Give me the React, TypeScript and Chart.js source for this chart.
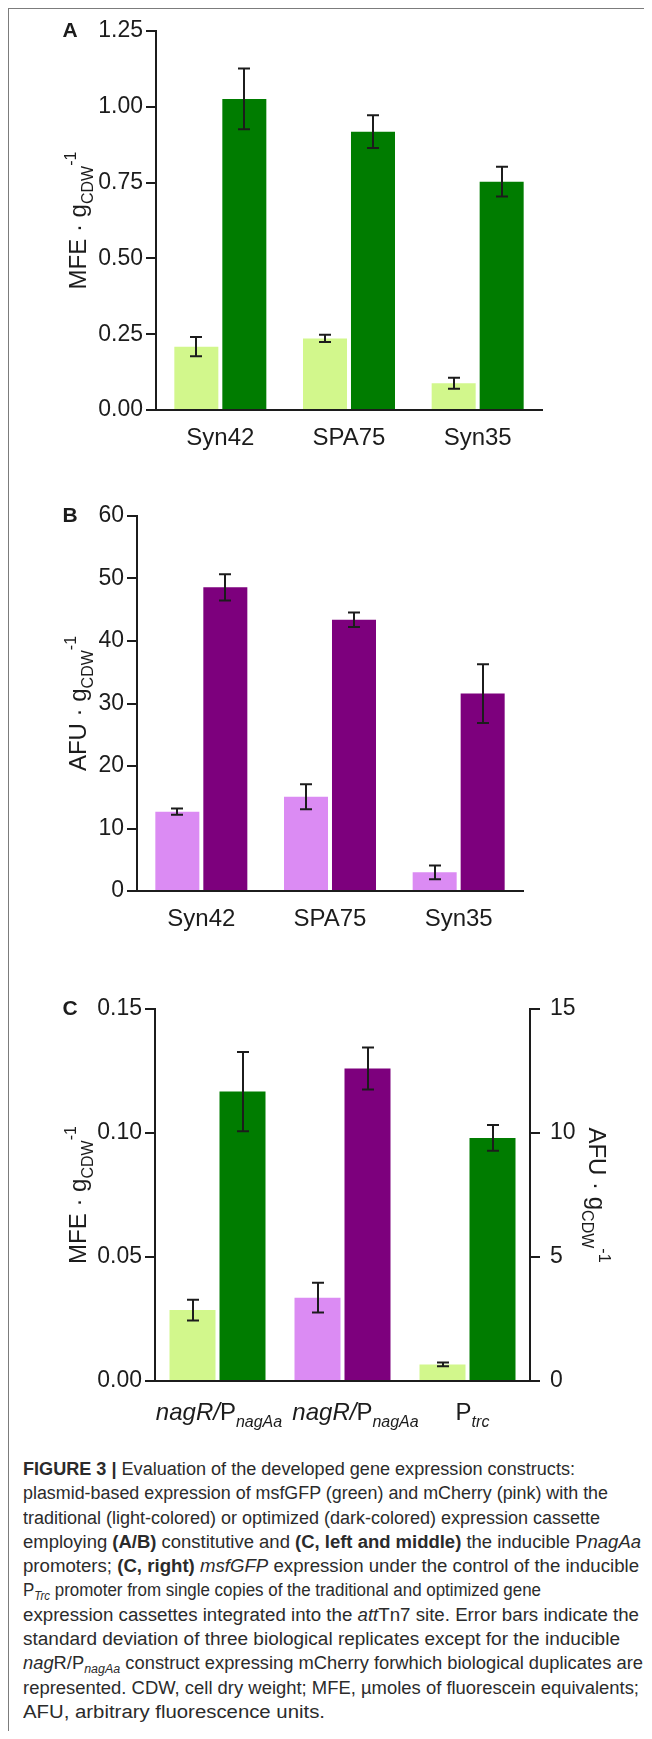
import React, { useEffect, useLayoutEffect, useRef, useState } from 'react';
import { Chart, registerables } from 'chart.js';

Chart.register(...registerables);

// ---------------- data ----------------
const abCategories = ['Syn42', 'SPA75', 'Syn35'];

const aTraditional = [0.209, 0.236, 0.088];
const aTraditionalSd = [0.032, 0.012, 0.018];
const aOptimized = [1.026, 0.918, 0.753];
const aOptimizedSd = [0.1, 0.054, 0.049];
const aTicks = [0, 0.25, 0.5, 0.75, 1.0, 1.25];

const bTraditional = [12.7, 15.1, 3.0];
const bTraditionalSd = [0.5, 2.0, 1.1];
const bOptimized = [48.6, 43.4, 31.6];
const bOptimizedSd = [2.1, 1.15, 4.7];
const bTicks = [0, 10, 20, 30, 40, 50, 60];

type Seg = { text: string; italic?: boolean; bold?: boolean; sub?: boolean; sup?: boolean };

const cCategories: Seg[][] = [
  [{ text: 'nagR/', italic: true }, { text: 'P' }, { text: 'nagAa', italic: true, sub: true }],
  [{ text: 'nagR/', italic: true }, { text: 'P' }, { text: 'nagAa', italic: true, sub: true }],
  [{ text: 'P' }, { text: 'trc', italic: true, sub: true }],
];
// msfGFP (MFE, left axis)
const cGfpTraditional = [0.0286, null, 0.0067];
const cGfpTraditionalSd = [0.0042, null, 0.0008];
const cGfpOptimized = [0.1167, null, 0.098];
const cGfpOptimizedSd = [0.016, null, 0.0052];
// mCherry (AFU, right axis)
const cCherryTraditional = [null, 3.36, null];
const cCherryTraditionalSd = [null, 0.6, null];
const cCherryOptimized = [null, 12.6, null];
const cCherryOptimizedSd = [null, 0.85, null];
const cLeftTicks = [0, 0.05, 0.1, 0.15];
const cRightTicks = [0, 5, 10, 15];

const mfeTitle: Seg[] = [{ text: 'MFE · g' }, { text: 'CDW', sub: true }, { text: '-1', sup: true }];
const afuTitle: Seg[] = [{ text: 'AFU · g' }, { text: 'CDW', sub: true }, { text: '-1', sup: true }];

// ---------------- style ----------------
const FONT = "'Liberation Sans', Arial, Helvetica, sans-serif";
const AXIS = '#1c1c1c';
const LIGHT_GREEN = '#d2f78c';
const DARK_GREEN = '#007c00';
const LIGHT_PINK = '#db8bf3';
const PURPLE = '#7d007d';
const TICK_FONT = 23;
const TITLE_FONT = 24;
// horizontal nudge of the panel C category labels (px)
const cLabelNudge = [1.5, 13, 5];

function segFont(s: Seg, size: number) {
  const sz = s.sub || s.sup ? Math.round(size * 0.68) : size;
  return `${s.italic ? 'italic ' : ''}${s.bold ? 'bold ' : ''}${sz}px ${FONT}`;
}

function drawRich(ctx: CanvasRenderingContext2D, segs: Seg[], x: number, y: number, size: number) {
  ctx.textBaseline = 'alphabetic';
  ctx.textAlign = 'left';
  const ws = segs.map((s) => {
    ctx.font = segFont(s, size);
    return ctx.measureText(s.text).width;
  });
  const total = ws.reduce((a, b) => a + b, 0);
  let cx = x - total / 2;
  segs.forEach((s, i) => {
    ctx.font = segFont(s, size);
    const dy = s.sub ? size * 0.3 : s.sup ? -size * 0.42 : 0;
    ctx.fillText(s.text, cx, y + dy);
    cx += ws[i];
  });
}

type Deco = {
  letter: string;
  letterX: number;
  leftTitle: Seg[];
  leftTitleX: number;
  rightTitle?: Seg[];
  rightTitleX?: number;
  categories: Seg[][];
  labelGap: number;
  labelSize: number;
  labelNudge?: number[];
};

function makeDeco(d: Deco) {
  return {
    id: 'deco',
    afterDatasetsDraw(chart: any) {
      const ctx: CanvasRenderingContext2D = chart.ctx;
      ctx.save();
      ctx.strokeStyle = AXIS;
      ctx.lineWidth = 2;
      chart.data.datasets.forEach((ds: any, di: number) => {
        const meta = chart.getDatasetMeta(di);
        const yScale = meta.vScale;
        meta.data.forEach((bar: any, i: number) => {
          const v = ds.data[i];
          const e = ds.errors ? ds.errors[i] : null;
          if (v == null || e == null) return;
          const x = Math.round(bar.x);
          const y1 = yScale.getPixelForValue(v + e);
          const y2 = yScale.getPixelForValue(v - e);
          ctx.beginPath();
          ctx.moveTo(x, y1);
          ctx.lineTo(x, y2);
          ctx.moveTo(x - 6, y1);
          ctx.lineTo(x + 6, y1);
          ctx.moveTo(x - 6, y2);
          ctx.lineTo(x + 6, y2);
          ctx.stroke();
        });
      });
      ctx.restore();
    },
    afterDraw(chart: any) {
      const ctx: CanvasRenderingContext2D = chart.ctx;
      const area = chart.chartArea;
      const xScale = chart.scales.x;
      ctx.save();
      ctx.fillStyle = AXIS;
      ctx.font = `bold 21px ${FONT}`;
      ctx.textAlign = 'center';
      ctx.textBaseline = 'middle';
      ctx.fillText(d.letter, d.letterX, area.top);
      const midY = (area.top + area.bottom) / 2;
      ctx.save();
      ctx.translate(d.leftTitleX, midY);
      ctx.rotate(-Math.PI / 2);
      drawRich(ctx, d.leftTitle, 0, TITLE_FONT * 0.36, TITLE_FONT);
      ctx.restore();
      if (d.rightTitle && d.rightTitleX != null) {
        ctx.save();
        ctx.translate(d.rightTitleX, midY);
        ctx.rotate(Math.PI / 2);
        drawRich(ctx, d.rightTitle, 0, TITLE_FONT * 0.36, TITLE_FONT);
        ctx.restore();
      }
      d.categories.forEach((segs, i) => {
        const nudge = d.labelNudge ? d.labelNudge[i] : 0;
        drawRich(ctx, segs, xScale.getPixelForValue(i) + nudge, area.bottom + d.labelGap, d.labelSize);
      });
      ctx.restore();
    },
  };
}

function yAxis(min: number, max: number, ticks: number[], width: number, digits: number, position = 'left', pad = 3) {
  return {
    type: 'linear',
    position,
    min,
    max,
    afterBuildTicks: (s: any) => {
      s.ticks = ticks.map((value) => ({ value }));
    },
    afterFit: (s: any) => {
      s.width = width;
    },
    ticks: {
      color: AXIS,
      font: { family: FONT, size: TICK_FONT },
      padding: pad,
      callback: (v: any) => Number(v).toFixed(digits),
    },
    grid: { display: true, drawOnChartArea: false, drawTicks: true, tickLength: 10, lineWidth: 2, color: AXIS },
    border: { display: true, color: AXIS, width: 2 },
  };
}

function xAxis(height: number) {
  return {
    type: 'category',
    offset: true,
    afterFit: (s: any) => {
      s.height = height;
    },
    ticks: { display: false },
    grid: { display: false, offset: true },
    border: { display: true, color: AXIS, width: 2 },
  };
}

const baseOptions = {
  animation: false,
  responsive: false,
  maintainAspectRatio: false,
  devicePixelRatio: 1,
  events: [],
};

function configA() {
  return {
    type: 'bar',
    data: {
      labels: abCategories,
      datasets: [
        { data: aTraditional, errors: aTraditionalSd, backgroundColor: LIGHT_GREEN, borderWidth: 0 },
        { data: aOptimized, errors: aOptimizedSd, backgroundColor: DARK_GREEN, borderWidth: 0 },
      ],
    },
    options: {
      ...baseOptions,
      categoryPercentage: 0.746,
      barPercentage: 0.917,
      layout: { padding: { top: 23, right: 102, bottom: 0, left: 0 } },
      plugins: { legend: { display: false }, tooltip: { enabled: false } },
      scales: {
        x: xAxis(60),
        y: yAxis(0, 1.25, aTicks, 148, 2),
      },
    },
    plugins: [
      makeDeco({
        letter: 'A',
        letterX: 62,
        leftTitle: mfeTitle,
        leftTitleX: 69,
        categories: abCategories.map((t) => [{ text: t }]),
        labelGap: 35,
        labelSize: 24,
      }),
    ],
  };
}

function configB() {
  return {
    type: 'bar',
    data: {
      labels: abCategories,
      datasets: [
        { data: bTraditional, errors: bTraditionalSd, backgroundColor: LIGHT_PINK, borderWidth: 0 },
        { data: bOptimized, errors: bOptimizedSd, backgroundColor: PURPLE, borderWidth: 0 },
      ],
    },
    options: {
      ...baseOptions,
      categoryPercentage: 0.746,
      barPercentage: 0.917,
      layout: { padding: { top: 46, right: 121, bottom: 0, left: 0 } },
      plugins: { legend: { display: false }, tooltip: { enabled: false } },
      scales: {
        x: xAxis(69),
        y: yAxis(0, 60, bTicks, 129, 0),
      },
    },
    plugins: [
      makeDeco({
        letter: 'B',
        letterX: 62,
        leftTitle: afuTitle,
        leftTitleX: 69,
        categories: abCategories.map((t) => [{ text: t }]),
        labelGap: 35,
        labelSize: 24,
      }),
    ],
  };
}

function configC() {
  return {
    type: 'bar',
    data: {
      labels: cCategories.map((segs) => segs.map((s) => s.text).join('')),
      datasets: [
        { data: cGfpTraditional, errors: cGfpTraditionalSd, backgroundColor: LIGHT_GREEN, borderWidth: 0, yAxisID: 'y' },
        { data: cGfpOptimized, errors: cGfpOptimizedSd, backgroundColor: DARK_GREEN, borderWidth: 0, yAxisID: 'y' },
        { data: cCherryTraditional, errors: cCherryTraditionalSd, backgroundColor: LIGHT_PINK, borderWidth: 0, yAxisID: 'y2' },
        { data: cCherryOptimized, errors: cCherryOptimizedSd, backgroundColor: PURPLE, borderWidth: 0, yAxisID: 'y2' },
      ],
    },
    options: {
      ...baseOptions,
      skipNull: true,
      categoryPercentage: 0.8,
      barPercentage: 0.92,
      layout: { padding: { top: 49, right: 0, bottom: 0, left: 0 } },
      plugins: { legend: { display: false }, tooltip: { enabled: false } },
      scales: {
        x: xAxis(69),
        y: yAxis(0, 0.15, cLeftTicks, 147, 2),
        y2: yAxis(0, 15, cRightTicks, 114, 0, 'right', 10),
      },
    },
    plugins: [
      makeDeco({
        letter: 'C',
        letterX: 62,
        leftTitle: mfeTitle,
        leftTitleX: 69,
        rightTitle: afuTitle,
        rightTitleX: 590,
        categories: cCategories,
        labelGap: 39,
        labelSize: 24,
        labelNudge: cLabelNudge,
      }),
    ],
  };
}

function ChartPanel({ top, height, make }: { top: number; height: number; make: () => any }) {
  const ref = useRef<HTMLCanvasElement>(null);
  useEffect(() => {
    const chart = new Chart(ref.current as HTMLCanvasElement, make());
    return () => chart.destroy();
  }, []);
  return (
    <canvas
      ref={ref}
      width={636}
      height={height}
      style={{ position: 'absolute', left: 0, top, width: 636, height }}
    />
  );
}

const subStyle: React.CSSProperties = { fontSize: '0.68em', verticalAlign: '-0.3em', lineHeight: 0 };
// rendered width (px) of each caption line
const captionLineWidths = [552, 585, 577, 618, 616, 518, 616, 597, 620, 616, 302];

export default function App() {
  const lineRefs = useRef<(HTMLSpanElement | null)[]>([]);
  const [scales, setScales] = useState<number[]>(captionLineWidths.map(() => 1));
  useLayoutEffect(() => {
    setScales(
      lineRefs.current.map((el, i) => {
        if (!el) return 1;
        const w = el.getBoundingClientRect().width;
        return w > 0 ? captionLineWidths[i] / w : 1;
      })
    );
  }, []);

  const lines: React.ReactNode[] = [
    <>
      <b>FIGURE 3 |</b> Evaluation of the developed gene expression constructs:
    </>,
    <>plasmid-based expression of msfGFP (green) and mCherry (pink) with the</>,
    <>traditional (light-colored) or optimized (dark-colored) expression cassette</>,
    <>
      employing <b>(A/B)</b> constitutive and <b>(C, left and middle)</b> the inducible P<i>nagAa</i>
    </>,
    <>
      promoters; <b>(C, right)</b> <i>msfGFP</i> expression under the control of the inducible
    </>,
    <>
      P<i style={subStyle}>Trc</i> promoter from single copies of the traditional and optimized gene
    </>,
    <>
      expression cassettes integrated into the <i>att</i>Tn7 site. Error bars indicate the
    </>,
    <>standard deviation of three biological replicates except for the inducible</>,
    <>
      <i>nag</i>R/P<i style={subStyle}>nagAa</i> construct expressing mCherry forwhich biological duplicates are
    </>,
    <>represented. CDW, cell dry weight; MFE, µmoles of fluorescein equivalents;</>,
    <>AFU, arbitrary fluorescence units.</>,
  ];

  return (
    <div style={{ position: 'relative', width: 636, height: 1723 }}>
      <style>{`html, body { overflow: hidden; }`}</style>
      <div
        style={{
          position: 'absolute',
          left: -1,
          top: -1,
          width: 641,
          height: 1800,
          borderTop: '2px solid #7c7c7c',
          borderLeft: '2px solid #7c7c7c',
          borderRight: '2px solid #7c7c7c',
          boxSizing: 'border-box',
        }}
      />
      <ChartPanel top={0} height={462} make={configA} />
      <ChartPanel top={462} height={490} make={configB} />
      <ChartPanel top={952} height={490} make={configC} />
      <div
        style={{
          position: 'absolute',
          left: 15,
          top: 1449,
          fontFamily: FONT,
          fontSize: 18,
          color: '#2b2b2b',
          whiteSpace: 'nowrap',
        }}
      >
        {lines.map((l, i) => (
          <div key={i} style={{ height: 24.3, lineHeight: '24.3px' }}>
            <span
              ref={(el) => {
                lineRefs.current[i] = el;
              }}
              style={{
                display: 'inline-block',
                transform: `scaleX(${scales[i]})`,
                transformOrigin: 'left center',
              }}
            >
              {l}
            </span>
          </div>
        ))}
      </div>
    </div>
  );
}
